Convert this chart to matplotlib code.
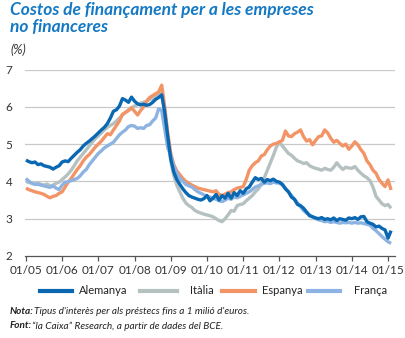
import matplotlib.pyplot as plt
from matplotlib.lines import Line2D

# monthly data, Jan 2005 .. Feb 2015
alemanya = [4.57, 4.53, 4.50, 4.52, 4.45, 4.47, 4.42, 4.40, 4.38, 4.33, 4.38, 4.42,
            4.52, 4.55, 4.53, 4.62, 4.70, 4.78, 4.85, 4.95, 5.02, 5.08, 5.15, 5.22,
            5.30, 5.38, 5.45, 5.55, 5.70, 5.88, 5.92, 6.02, 6.22, 6.18, 6.12, 6.26,
            6.15, 6.08, 6.05, 6.07, 6.04, 6.06, 6.12, 6.20, 6.25, 6.32, 5.85, 5.20,
            4.60, 4.25, 4.05, 3.92, 3.80, 3.70, 3.62, 3.58, 3.55, 3.52, 3.50, 3.54,
            3.62, 3.48, 3.55, 3.65, 3.50, 3.62, 3.55, 3.68, 3.55, 3.70, 3.62, 3.75,
            3.68, 3.80, 3.85, 3.98, 4.10, 4.05, 4.08, 3.98, 4.05, 4.02, 4.06, 4.00,
            3.98, 3.92, 3.80, 3.72, 3.58, 3.52, 3.38, 3.35, 3.28, 3.18, 3.08, 3.05,
            3.02, 3.00, 3.03, 2.98, 3.00, 2.97, 3.02, 2.95, 3.00, 2.98, 2.96, 3.02,
            3.00, 3.03, 2.98, 3.05, 3.06, 2.92, 2.88, 2.85, 2.78, 2.80, 2.74, 2.70,
            2.48, 2.68]
italia = [4.00, 3.97, 3.95, 3.93, 3.96, 3.92, 3.90, 3.93, 3.88, 3.90, 3.95, 3.98,
          4.05, 4.12, 4.20, 4.30, 4.42, 4.55, 4.65, 4.75, 4.85, 4.95, 5.05, 5.15,
          5.22, 5.30, 5.38, 5.45, 5.50, 5.55, 5.62, 5.70, 5.78, 5.85, 5.92, 5.98,
          6.02, 6.06, 6.10, 6.12, 6.15, 6.20, 6.22, 6.28, 6.35, 6.40, 5.85, 5.15,
          4.55, 4.15, 3.90, 3.72, 3.55, 3.42, 3.35, 3.30, 3.22, 3.18, 3.15, 3.12,
          3.10, 3.08, 3.05, 3.00, 2.95, 2.92, 3.00, 3.10, 3.22, 3.20, 3.35, 3.38,
          3.40, 3.48, 3.55, 3.62, 3.72, 3.80, 3.92, 4.10, 4.30, 4.50, 4.70, 4.92,
          5.05, 4.95, 4.85, 4.75, 4.70, 4.62, 4.55, 4.52, 4.48, 4.50, 4.42, 4.38,
          4.35, 4.33, 4.30, 4.35, 4.32, 4.30, 4.38, 4.50, 4.40, 4.32, 4.38, 4.36,
          4.35, 4.40, 4.30, 4.22, 4.15, 4.10, 4.02, 3.85, 3.60, 3.50, 3.40, 3.35,
          3.38, 3.28]
espanya = [3.82, 3.78, 3.75, 3.72, 3.70, 3.68, 3.65, 3.60, 3.56, 3.60, 3.62, 3.68,
           3.72, 3.85, 3.98, 4.08, 4.20, 4.32, 4.42, 4.55, 4.65, 4.72, 4.82, 4.92,
           5.00, 5.08, 5.18, 5.28, 5.25, 5.38, 5.50, 5.62, 5.80, 5.85, 5.90, 5.97,
           5.88, 5.78, 5.90, 6.00, 6.15, 6.25, 6.30, 6.35, 6.40, 6.58, 6.00, 5.30,
           4.75, 4.45, 4.28, 4.18, 4.08, 4.00, 3.95, 3.90, 3.86, 3.82, 3.80, 3.78,
           3.76, 3.74, 3.72, 3.75, 3.65, 3.62, 3.66, 3.70, 3.72, 3.78, 3.82, 3.84,
           3.86, 4.05, 4.30, 4.42, 4.50, 4.55, 4.68, 4.72, 4.85, 4.95, 5.00, 5.02,
           5.06, 5.10, 5.35, 5.22, 5.20, 5.28, 5.32, 5.38, 5.20, 5.08, 5.12, 4.98,
           5.10, 5.20, 5.22, 5.38, 5.30, 5.16, 5.05, 5.10, 5.02, 4.95, 5.00, 4.86,
           4.95, 5.06, 4.98, 4.85, 4.75, 4.55, 4.45, 4.30, 4.22, 4.05, 3.95, 3.86,
           4.04, 3.77]
franca = [4.08, 4.00, 3.95, 3.92, 3.92, 3.90, 3.88, 3.86, 3.84, 3.88, 3.82, 3.78,
          3.90, 3.98, 3.99, 4.02, 4.05, 4.08, 4.15, 4.25, 4.32, 4.45, 4.55, 4.65,
          4.75, 4.82, 4.90, 4.95, 5.00, 5.05, 5.15, 5.25, 5.32, 5.38, 5.47, 5.50,
          5.48, 5.42, 5.44, 5.42, 5.50, 5.52, 5.62, 5.70, 5.95, 5.90, 5.40, 4.90,
          4.70, 4.40, 4.22, 4.08, 4.00, 3.92, 3.88, 3.85, 3.78, 3.72, 3.68, 3.64,
          3.60, 3.58, 3.55, 3.52, 3.48, 3.46, 3.50, 3.55, 3.52, 3.58, 3.56, 3.60,
          3.64, 3.68, 3.72, 3.78, 3.85, 3.88, 3.92, 3.95, 3.96, 3.94, 3.98, 3.96,
          3.95, 3.90, 3.82, 3.72, 3.62, 3.52, 3.42, 3.32, 3.22, 3.15, 3.10, 3.05,
          3.00, 2.97, 2.95, 2.92, 2.93, 2.90, 2.92, 2.90, 2.88, 2.90, 2.89, 2.90,
          2.88, 2.90, 2.88, 2.89, 2.87, 2.85, 2.83, 2.74, 2.68, 2.60, 2.52, 2.45,
          2.38, 2.34]

tick_labels = ["01/05", "01/06", "01/07", "01/08", "01/09", "01/10",
               "01/11", "01/12", "01/13", "01/14", "01/15"]
names = ["Alemanya", "Itàlia", "Espanya", "França"]
colors = ["#0a68b2", "#b5c1c1", "#f39467", "#8db3e2"]

months = list(range(len(alemanya)))
series = [alemanya, italia, espanya, franca]

W, H = 406, 338
fig = plt.figure(figsize=(W / 100, H / 100), dpi=100)
ax = fig.add_axes([25 / W, 1 - 256 / H, 370 / W, 186.5 / H])

for i in [1, 2, 3, 0]:
    ax.plot(months, series[i], color=colors[i], lw=2.4, solid_capstyle="butt")

ax.set_xlim(-0.3, 122.3)
ax.set_ylim(2, 7)
ax.set_yticks([2, 3, 4, 5, 6, 7])
ax.set_xticks(range(0, 121, 12))
ax.set_xticklabels(tick_labels)
for y in [3, 4, 5, 6, 7]:
    ax.axhline(y, color="#c9c9c9", lw=0.9, zorder=0)

for s in ["top", "right", "left"]:
    ax.spines[s].set_visible(False)
ax.spines["bottom"].set_color("#555555")
ax.spines["bottom"].set_linewidth(0.9)
ax.tick_params(axis="y", length=0, pad=9, labelsize=8.5, labelcolor="#333333")
ax.tick_params(axis="x", length=3.5, width=0.9, color="#555555", pad=3,
               labelsize=8.5, labelcolor="#333333")
for lab in ax.get_xticklabels() + ax.get_yticklabels():
    lab.set_family("Lato")

fig.text(10 / W, 1 - 2 / H, "Costos de finançament per a les empreses\nno financeres",
         family="Lato", weight="bold", style="italic", size=12.5, color="#1479c4",
         va="top", linespacing=1.05)
fig.text(10 / W, 1 - 50 / H, "(%)", family="Lato", style="italic",
         size=9, color="#333333", va="center")

# legend drawn by hand
handle_x = [(40, 72), (140, 177), (222, 255), (308, 340)]
text_x = [79, 190, 262, 354]
ly = 1 - 291 / H
for (x0, x1), tx, c, n in zip(handle_x, text_x, colors, names):
    fig.add_artist(Line2D([x0 / W, x1 / W], [ly, ly], color=c, lw=3,
                          transform=fig.transFigure))
    fig.text(tx / W, ly, n, family="Lato", size=8, color="#222222", va="center")

fig.text(10 / W, 1 - 311 / H, "Nota:", family="Lato", weight="bold", style="italic",
         size=7.2, color="#222222", va="center")
fig.text(34 / W, 1 - 311 / H, "Tipus d'interès per als préstecs fins a 1 milió d'euros.",
         family="Lato", style="italic", size=7.2, color="#222222", va="center")
fig.text(10 / W, 1 - 326 / H, "Font:", family="Lato", weight="bold", style="italic",
         size=7.2, color="#222222", va="center")
fig.text(32 / W, 1 - 326 / H, "\u201cla Caixa\u201d Research, a partir de dades del BCE.",
         family="Lato", style="italic", size=7.2, color="#222222", va="center")

fig.savefig("out.png", dpi=100)
